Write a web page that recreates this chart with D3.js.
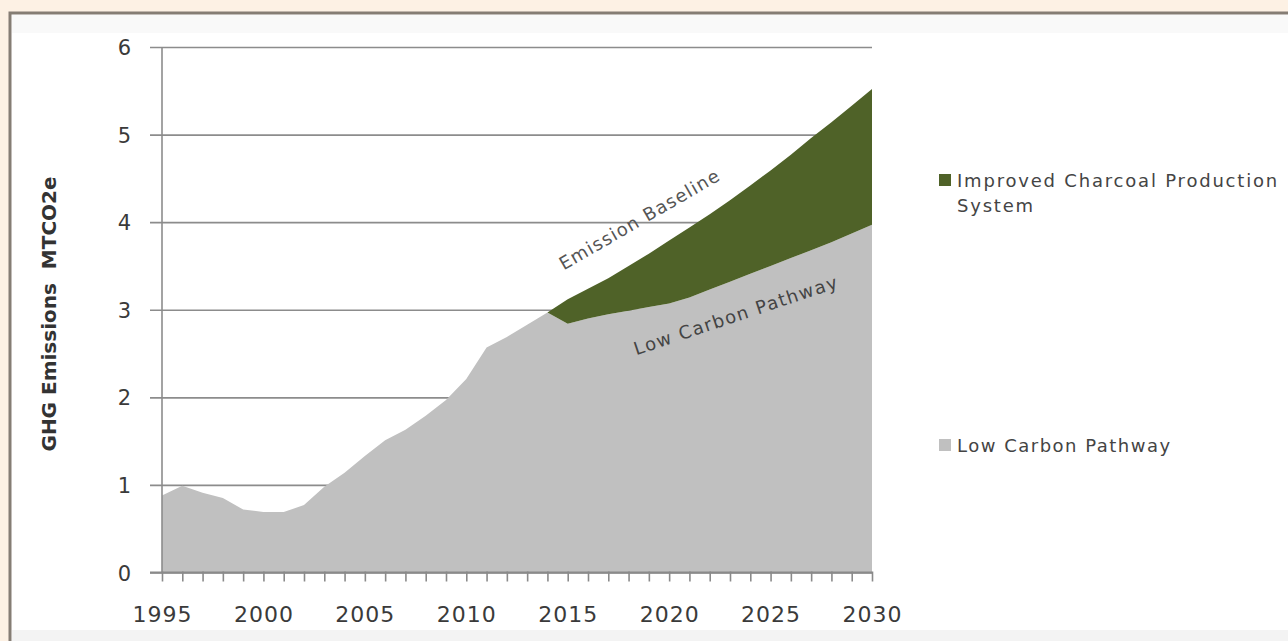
<!DOCTYPE html>
<html>
<head>
<meta charset="utf-8">
<script src="https://cdn.jsdelivr.net/npm/d3@7/dist/d3.min.js"></script>
<style>
  html, body { margin: 0; padding: 0; background: #fdf1e4; }
  svg { display: block; }
</style>
</head>
<body>
<svg id="chart" width="1288" height="641"></svg>
<script>
// ---- data ----
const years = [1995,1996,1997,1998,1999,2000,2001,2002,2003,2004,2005,2006,2007,2008,2009,2010,2011,2012,
               2013,2014,2015,2016,2017,2018,2019,2020,2021,2022,2023,2024,2025,2026,2027,2028,2029,2030];
const lowCarbon = [0.88,0.99,0.91,0.85,0.72,0.69,0.69,0.77,0.98,1.14,1.33,1.51,1.63,1.79,1.97,2.21,2.57,2.69,
                   2.83,2.97,2.84,2.90,2.95,2.99,3.03,3.07,3.14,3.23,3.32,3.41,3.50,3.59,3.68,3.77,3.87,3.97];
const improvedCharcoal = [null,null,null,null,null,null,null,null,null,null,null,null,null,null,null,null,null,null,
                   null,0.00,0.28,0.34,0.41,0.51,0.61,0.72,0.80,0.86,0.93,1.01,1.09,1.18,1.28,1.37,1.46,1.55];
const yTicks = [0,1,2,3,4,5,6];
const xLabels = [1995,2000,2005,2010,2015,2020,2025,2030];
const seriesNames = ["Improved Charcoal Production System", "Low Carbon Pathway"];
const seriesColors = ["#4f6228", "#c0c0c0"];
const yTitle = "GHG Emissions\u00a0\u00a0MTCO2e";
const annotations = ["Emission Baseline", "Low Carbon Pathway"];

// ---- drawing ----
const svg = d3.select("#chart");
const font = "'DejaVu Sans', sans-serif";

// panel frame
svg.append("rect").attr("x", 10).attr("y", 13).attr("width", 1300).attr("height", 640)
  .attr("fill", "#ffffff").attr("stroke", "#857d74").attr("stroke-width", 3);
svg.append("rect").attr("x", 12).attr("y", 15).attr("width", 1290).attr("height", 18).attr("fill", "#f9f9f9");
svg.append("rect").attr("x", 12).attr("y", 630).attr("width", 1290).attr("height", 11).attr("fill", "#f3f3f3");

const x = d3.scaleLinear().domain([1995, 2030]).range([162, 872]);
const y = d3.scaleLinear().domain([0, 6]).range([572.5, 47]);

const rows = years.map((yr, i) => ({
  year: yr, low: lowCarbon[i], imp: improvedCharcoal[i]
}));

// gridlines + y axis
const yAxis = d3.axisLeft(y).tickValues(yTicks).tickSize(0).tickFormat(d3.format("d"));
const gY = svg.append("g").attr("transform", "translate(162,0)").call(yAxis);
gY.select(".domain").remove();
gY.selectAll(".tick line").remove();
gY.selectAll(".tick").append("line")
  .attr("x1", -12).attr("x2", 872 - 162).attr("y1", 0).attr("y2", 0)
  .attr("stroke", "#8c8c8c").attr("stroke-width", 1.6);
gY.selectAll(".tick text")
  .attr("x", -31).attr("dy", "0.36em")
  .attr("font-family", font).attr("font-size", 21).attr("fill", "#3a3a3a");

// areas
const areaLow = d3.area()
  .x(d => x(d.year)).y0(y(0)).y1(d => y(d.low));
const areaImp = d3.area()
  .defined(d => d.imp !== null)
  .x(d => x(d.year)).y0(d => y(d.low)).y1(d => y(d.low + d.imp));

svg.append("path").datum(rows).attr("d", areaLow).attr("fill", seriesColors[1]);
svg.append("path").datum(rows).attr("d", areaImp).attr("fill", seriesColors[0]);

// y axis line
svg.append("line").attr("x1", 162).attr("x2", 162).attr("y1", y(6)).attr("y2", y(0))
  .attr("stroke", "#8c8c8c").attr("stroke-width", 1.6);

// x axis
const xAxis = d3.axisBottom(x).tickValues(years).tickSize(9).tickSizeOuter(0)
  .tickFormat(d => xLabels.includes(d) ? String(d) : "");
const gX = svg.append("g").attr("transform", `translate(0,${y(0)})`).call(xAxis);
gX.select(".domain").attr("d", `M150,0H872`).attr("stroke", "#8a8a8a").attr("stroke-width", 2);
gX.selectAll(".tick line").attr("stroke", "#8a8a8a").attr("stroke-width", 1.6).attr("y1", -1);
gX.selectAll(".tick text")
  .attr("y", 49).attr("dy", "0")
  .attr("font-family", font).attr("font-size", 22).attr("fill", "#3a3a3a")
  .attr("letter-spacing", 1);

// y title
svg.append("text")
  .attr("transform", `translate(56,${314}) rotate(-90)`)
  .attr("text-anchor", "middle")
  .attr("font-family", font).attr("font-weight", "bold").attr("font-size", 20)
  .attr("fill", "#333").text(yTitle);

// annotations
svg.append("text")
  .attr("transform", `translate(${x(2018.7)},${y(3.97)}) rotate(-30)`)
  .attr("text-anchor", "middle")
  .attr("font-family", font).attr("font-size", 18).attr("letter-spacing", 1.2).attr("fill", "#555")
  .text(annotations[0]);
svg.append("text")
  .attr("transform", `translate(${x(2023.4)},${y(2.87)}) rotate(-18.5)`)
  .attr("text-anchor", "middle")
  .attr("font-family", font).attr("font-size", 18).attr("letter-spacing", 1.5).attr("fill", "#444")
  .text(annotations[1]);

// legend
const legend = svg.append("g");
const legY = [180, 445];
seriesNames.forEach((name, i) => {
  legend.append("rect").attr("x", 939).attr("y", legY[i] - 6).attr("width", 12).attr("height", 12)
    .attr("fill", seriesColors[i]);
});
const t0 = legend.append("text").attr("font-family", font).attr("font-size", 18)
  .attr("letter-spacing", 1.8).attr("fill", "#444");
t0.append("tspan").attr("x", 957).attr("y", legY[0] + 7).text("Improved Charcoal Production");
t0.append("tspan").attr("x", 957).attr("y", legY[0] + 32).text("System");
legend.append("text").attr("x", 957).attr("y", legY[1] + 7)
  .attr("font-family", font).attr("font-size", 18).attr("letter-spacing", 1.5)
  .attr("fill", "#444").text(seriesNames[1]);
</script>
</body>
</html>
